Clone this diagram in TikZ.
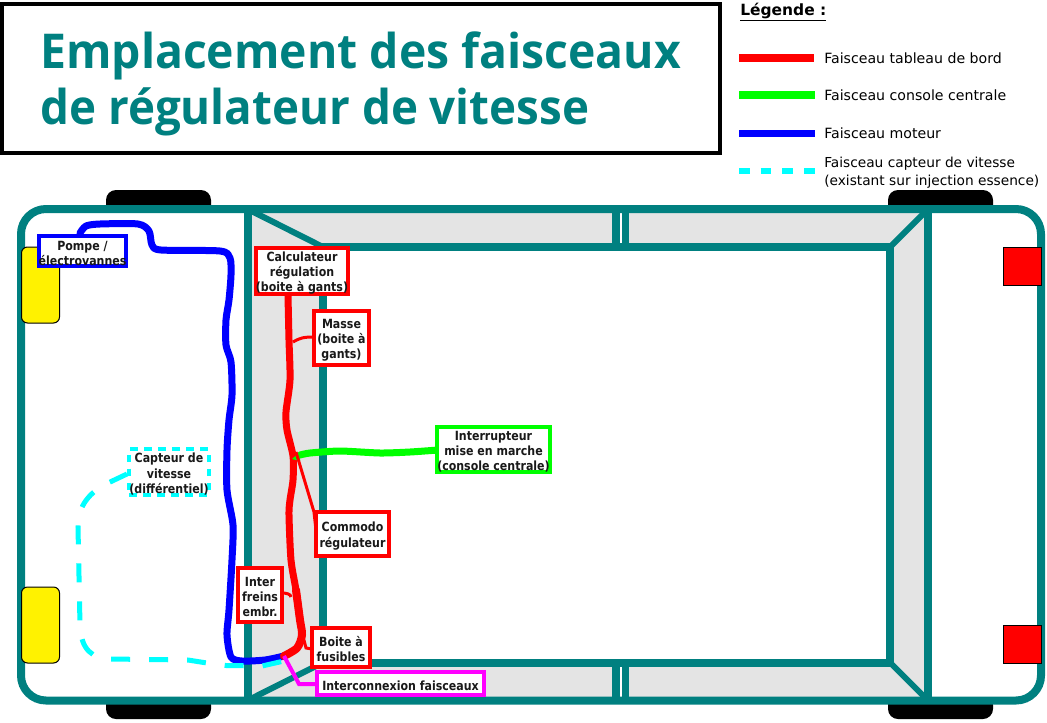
\documentclass[tikz,border=0pt]{standalone}
\usepackage{fontspec}
\setmainfont{DejaVu Sans}
\newfontfamily\titlefont[FakeStretch=0.965]{Open Sans}
\newfontfamily\titlefontb[FakeStretch=0.953]{Open Sans}
\newfontfamily\labfont[FakeStretch=0.87]{DejaVu Sans}
\newcommand{\lift}{\rule{0pt}{10.3pt}}
\definecolor{teal}{RGB}{0,128,128}
\definecolor{panel}{RGB}{228,228,228}
\definecolor{rouge}{RGB}{255,0,0}
\definecolor{vert}{RGB}{0,255,0}
\definecolor{bleu}{RGB}{0,0,255}
\definecolor{cyanc}{RGB}{0,255,255}
\definecolor{magen}{RGB}{255,0,255}
\tikzset{
 px/.style={line width=#1*0.75pt},
 body/.style={draw=teal,px=8},
 lab/.style={fill=white,align=center,inner sep=0pt,font=\labfont\bfseries\fontsize{9.5}{11.3}\selectfont,text=black!90},
 redbox/.style={lab,draw=rouge,px=4},
 wire/.style={line cap=round,line join=round},
 leg/.style={anchor=west,inner sep=0pt,align=left,font=\fontsize{10.6}{13.5}\selectfont},
}
\begin{document}
\begin{tikzpicture}[x=0.75pt,y=-0.75pt]
\useasboundingbox (0,0) rectangle (1047,722);
% wheels
\foreach \xa in {106,888}{
 \fill[black,rounded corners=10*0.75pt] (\xa,215) -- (\xa,190) -- ++(105,0) -- ++(0,25) -- cycle;
 \fill[black,rounded corners=10*0.75pt] (\xa,695) -- (\xa,719) -- ++(105,0) -- ++(0,-24) -- cycle;
}
% body
\fill[white,rounded corners=25*0.75pt] (21,209) rectangle (1041,700.5);
\fill[panel] (247.5,209) rectangle (928,700.5);
\fill[white] (323,247) rectangle (890,662.5);
\fill[white] (616,209) rectangle (626,247);
\fill[white] (616,662.5) rectangle (626,700.5);
\draw[body,rounded corners=25*0.75pt] (21,209) rectangle (1041,700.5);
\draw[body] (247.5,209) -- (247.5,700.5);
\draw[body] (928,209) -- (928,700.5);
\draw[body] (323,247) rectangle (890,662.5);
\draw[body,px=6] (247.5,209) -- (323,247);
\draw[body,px=6] (247.5,700.5) -- (323,662.5);
\draw[body,px=6] (928,209) -- (890,247);
\draw[body,px=6] (928,700.5) -- (890,662.5);
\draw[body] (616,209) -- (616,247);
\draw[body,px=7] (625.5,209) -- (625.5,247);
\draw[body] (616,662.5) -- (616,700.5);
\draw[body,px=7] (625.5,662.5) -- (625.5,700.5);
% lamps
\foreach \ya in {247,587}{
 \draw[fill=yellow,draw=black,px=1,rounded corners=6*0.75pt] (21.5,\ya) rectangle (59.5,\ya+76);
}
\foreach \ya in {247,625}{
 \draw[fill=rouge,draw=black,px=1] (1003.5,\ya) rectangle (1041.5,\ya+38);
}
% title
\draw[black,px=4,fill=white] (2,4) rectangle (720,153);
\node[anchor=west,inner sep=0pt,text=teal,align=left,font=\titlefont\bfseries\fontsize{36}{42}\selectfont] (titre) at (40,84) {Emplacement des faisceaux\\{\titlefontb\bfseries de régulateur de vitesse}};
% legend
\node[anchor=west,inner sep=0pt,font=\bfseries\fontsize{11.6}{13}\selectfont] (legt) at (740,12) {\underline{Légende :}};
\coordinate (l1a) at (739,58); \coordinate (l1b) at (814,58);
\coordinate (l2a) at (739,95); \coordinate (l2b) at (815,95);
\coordinate (l3a) at (739,133); \coordinate (l3b) at (815,133);
\coordinate (l4a) at (739,171); \coordinate (l4b) at (815,171);
\draw[rouge,px=8] (l1a) -- (l1b);
\draw[vert,px=8] (l2a) -- (l2b);
\draw[bleu,px=7] (l3a) -- (l3b);
\draw[cyanc,px=6,dash pattern=on 8pt off 8.25pt] (l4a) -- (l4b);
\node[leg] (lg1) at (824,58) {Faisceau tableau de bord};
\node[leg] (lg2) at (824,95) {Faisceau console centrale};
\node[leg] (lg3) at (824,133) {Faisceau moteur};
\node[leg,font=\fontsize{10.3}{13.5}\selectfont] (lg4) at (824,173) {Faisceau capteur de vitesse\\(existant sur injection essence)};
% wires under the boxes
\coordinate (jn) at (293,458);
\coordinate (jb) at (284,656);
\draw[wire,bleu,px=7] plot[smooth,tension=0.45] coordinates {(80,233) (86,226) (100,224) (138,224) (149,231) (152,245) (161,250) (220,251) (230,258) (231,275) (229,300) (226,320) (226,345) (231,362) (232,395) (229,420) (227,450) (227,490) (233,525) (232,560) (229,610) (227,635) (231,657) (242,661) (265,660) (jb)};
\draw[cyanc,px=5,dash pattern=on 14.25pt off 14.25pt] (127,474) -- (108,483) .. controls (90,492) and (78,505) .. (78,527) -- (80,625) .. controls (81,650) and (92,658) .. (110,659) -- (188,660) -- (207,663) -- (226,665.5) -- (262,666) -- (284,661);
\draw[wire,rouge,px=7] plot[smooth,tension=0.45] coordinates {(288,296) (289,340) (290,380) (286,412) (287,430) (293,456) (293,480) (290,500) (289,515) (291,560) (296,590) (300,620)};
\draw[wire,rouge,px=8] plot[smooth,tension=0.5] coordinates {(296,590) (300,620) (302,635) (297,648) (jb)};
\draw[rouge,px=3] (293,342) .. controls (300,338) and (303,337) .. (314,337);
\draw[rouge,px=3] (291,597) .. controls (291,594) and (286,593) .. (282,593);
\draw[rouge,px=3] (304,640) -- (306,648) -- (312,649);
\draw[wire,vert,px=7] plot[smooth,tension=0.4] coordinates {(438,450) (410,452) (380,453) (340,451) (310,453) (300,455)};
\fill[vert] (292,459) -- (300,452) -- (300,461) -- cycle;
\draw[rouge,px=3] (296,452) -- (314,512) -- (316,530);
\draw[magen,px=4] (jb) -- (299,684) -- (318,684);
% nodes
\node[lab,draw=bleu,px=4,minimum width=87*0.75pt,minimum height=30*0.75pt] (pompe) at (82.5,251) {\lift Pompe /\\électrovannes};
\node[redbox,minimum width=90*0.75pt,minimum height=46*0.75pt] (calc) at (302,271) {\lift Calculateur\\régulation\\(boite à gants)};
\node[redbox,minimum width=55*0.75pt,minimum height=54*0.75pt] (masse) at (341.5,338) {\lift Masse\\(boite à\\gants)};
\node[lab,draw=vert,px=4,minimum width=111*0.75pt,minimum height=45*0.75pt] (inter) at (493.5,449.5) {\lift Interrupteur\\mise en marche\\(console centrale)};
\node[redbox,minimum width=73*0.75pt,minimum height=44*0.75pt] (commodo) at (352.5,534) {\lift Commodo\\régulateur};
\node[redbox,minimum width=44*0.75pt,minimum height=54*0.75pt] (freins) at (260,595) {\lift Inter\\freins\\embr.};
\node[redbox,minimum width=58*0.75pt,minimum height=39*0.75pt] (boite) at (341,647.5) {\lift Boite à\\fusibles};
\node[lab,draw=magen,px=4,minimum width=167*0.75pt,minimum height=23*0.75pt] (interco) at (400.5,683.5) {\lift Interconnexion faisceaux};
\node[lab,draw=cyanc,px=4,dash pattern=on 5.5pt off 5pt,minimum width=76*0.75pt,minimum height=46*0.75pt] (capteur) at (169,472) {\lift Capteur de\\vitesse\\(différentiel)};
\end{tikzpicture}
\end{document}
